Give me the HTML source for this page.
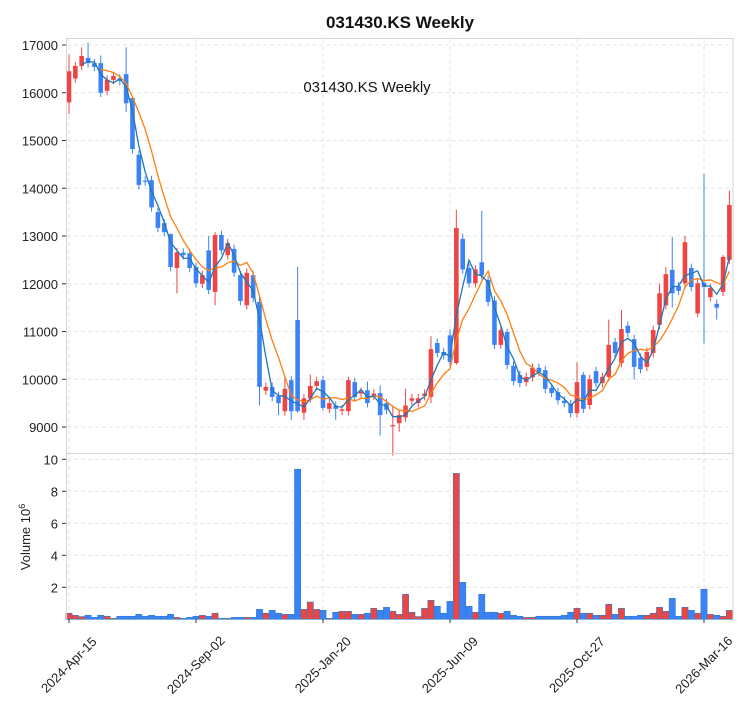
<!DOCTYPE html>
<html><head><meta charset="utf-8"><style>
body{margin:0;background:#fff;}
svg{display:block;font-family:"Liberation Sans",sans-serif;}
</style></head><body>
<svg id="s" width="753" height="712" xmlns="http://www.w3.org/2000/svg"></svg>
<script>
const C=[[15800,16450],[16300,16560],[16560,16770],[16730,16620],[16620,16540],[16620,16000],[16040,16270],[16270,16350],[16300,16250],[16390,15780],
[15890,14820],[14700,14070],[14160,14140],[14170,13600],[13500,13170],[13270,13080],[13040,12350],[12330,12660],[12650,12600],[12640,12330],
[12350,12010],[12000,12180],[12700,11870],[11830,13020],[13020,12700],[12600,12850],[12730,12230],[12180,11640],[11550,12230],[12180,11700],
[11620,9840],[9760,9840],[9840,9630],[9650,9500],[9330,9800],[9980,9330],[11240,9330],[9300,9600],[9600,9860],[9860,9960],
[9980,9400],[9380,9500],[9450,9380],[9340,9370],[9330,9980],[9940,9630],[9700,9740],[9770,9500],[9660,9700],[9710,9250],
[9500,9360],[9020,9040],[9080,9250],[9200,9450],[9550,9600],[9500,9600],[9650,9700],[9630,10630],[10760,10550],[10570,10500],
[10920,10360],[10340,13170],[12940,12300],[12330,12010],[12010,12300],[12450,12180],[12080,11620],[11650,10720],[10720,11030],[10990,10300],
[10280,9960],[10090,9920],[9940,10050],[10040,10240],[10240,10150],[10190,9800],[9820,9710],[9730,9560],[9550,9500],[9480,9290],
[9290,9940],[10090,9380],[9460,10000],[10170,9920],[9920,10050],[10050,10720],[10780,10550],[10340,11050],[11120,10970],[10840,10260],
[10450,10210],[10260,10570],[10550,11030],[11140,11800],[11550,12200],[12290,11800],[11950,11850],[12010,12870],[12330,11930],[11380,12010],
[12020,11930],[11720,11910],[11580,11500],[11830,12560],[12500,13650]];
const V=[.38,.25,.17,.25,.12,.25,.19,.06,.19,.19,.19,.31,.19,.25,.19,.19,.31,.12,.06,.12,.19,.25,.19,.38,.06,.06,.12,.12,.12,.12,
.62,.38,.56,.38,.31,.31,9.38,.62,1.08,.62,.56,.06,.44,.5,.5,.31,.31,.38,.69,.56,.75,.5,.31,1.56,.44,.17,.69,1.19,.81,.38,
1.12,9.12,2.31,.81,.44,1.56,.44,.44,.38,.5,.25,.19,.12,.12,.19,.19,.19,.19,.25,.44,.69,.38,.38,.25,.25,.94,.31,.69,.19,.19,
.25,.25,.38,.75,.5,1.31,.19,.75,.56,.38,1.88,.31,.25,.19,.56];
const HI={0:16800,2:16950,3:17050,9:16950,5:16780,10:15900,16:13050,22:13000,23:13080,30:11750,34:10050,36:12350,38:10100,44:10050,47:9950,49:9870,51:9450,53:9800,57:10900,60:11050,61:13550,62:13050,65:13530,69:11060,80:10350,81:10150,85:11250,87:11450,93:12000,94:12350,95:12980,97:13000,99:12100,100:14300,103:12600,104:13950};
const LO={0:15550,9:15600,17:11800,23:11550,30:9450,33:9250,35:9150,36:9300,37:9150,40:9350,42:9150,49:8820,51:8400,52:8900,57:9500,61:10300,79:9200,89:10000,95:11500,97:11900,99:11300,100:10750,102:11250};
const x0=69,dx=6.35;
const py=p=>45+(17000-p)*0.04775;
const vy=v=>619.3-v*16;
let s='';
const gx=[0,20,40,60,80,100];
for(let p=9000;p<=17000;p+=1000)s+=`<line x1="67" x2="733" y1="${py(p)}" y2="${py(p)}" stroke="#e4e4e4" stroke-dasharray="4,3"/>`;
for(let v=2;v<=10;v+=2)s+=`<line x1="67" x2="733" y1="${vy(v)}" y2="${vy(v)}" stroke="#e4e4e4" stroke-dasharray="4,3"/>`;
for(const i of gx){const x=x0+i*dx;s+=`<line x1="${x}" x2="${x}" y1="39" y2="618" stroke="#e4e4e4" stroke-dasharray="4,3"/>`;}
const R='#ef4444',B='#3b82f6';
V.forEach((v,i)=>{const o=C[i][0],c=C[i][1];const x=x0+i*dx;s+=`<rect x="${x-3.1}" y="${vy(v)}" width="6.2" height="${619.3-vy(v)}" fill="${c>=o?R:B}" stroke="#2f7fc4" stroke-width="0.6"/>`;});
C.forEach(([o,c],i)=>{const x=x0+i*dx;const col=c>=o?R:B;const h=HI[i]||Math.max(o,c)+90,l=LO[i]||Math.min(o,c)-90;
s+=`<line x1="${x}" x2="${x}" y1="${py(h)}" y2="${py(l)}" stroke="${col}" stroke-width="1"/>`;
const t=py(Math.max(o,c)),b=py(Math.min(o,c));s+=`<rect x="${x-2.3}" y="${t}" width="4.6" height="${Math.max(b-t,1.2)}" fill="${col}"/>`;});
function ma(n,col){let pts=[];for(let i=n-1;i<C.length;i++){let a=0;for(let k=0;k<n;k++)a+=C[i-k][1];pts.push((x0+i*dx).toFixed(1)+','+py(a/n).toFixed(1));}
s+=`<polyline points="${pts.join(' ')}" fill="none" stroke="${col}" stroke-width="1.3"/>`;}
ma(6,'#ff7f0e');ma(3,'#1f77b4');
s+=`<rect x="66.5" y="38.5" width="666.5" height="415" fill="none" stroke="#d4d4dc"/>`;
s+=`<line x1="66.5" x2="66.5" y1="453" y2="619" stroke="#d4d4dc"/><line x1="733" x2="733" y1="453" y2="619" stroke="#d4d4dc"/>`;
for(let p=9000;p<=17000;p+=1000){const y=py(p);s+=`<line x1="62" x2="66" y1="${y}" y2="${y}" stroke="#333"/><text x="58" y="${y+5}" font-size="13" text-anchor="end" fill="#222">${p}</text>`;}
for(let v=2;v<=10;v+=2){const y=vy(v);s+=`<line x1="62" x2="66" y1="${y}" y2="${y}" stroke="#333"/><text x="58" y="${y+5}" font-size="13" text-anchor="end" fill="#222">${v}</text>`;}
const L=['2024-Apr-15','2024-Sep-02','2025-Jan-20','2025-Jun-09','2025-Oct-27','2026-Mar-16'];
gx.forEach((i,k)=>{const x=x0+i*dx;s+=`<line x1="${x}" x2="${x}" y1="619" y2="623" stroke="#333"/><text transform="translate(${x+3},${668}) rotate(-45)" font-size="13" text-anchor="middle" fill="#222">${L[k]}</text>`;});
s+=`<text transform="translate(30,537) rotate(-90)" font-size="13" text-anchor="middle" fill="#222">Volume  10<tspan font-size="9" dy="-5">6</tspan></text>`;
s+=`<text x="400" y="28" font-size="17" font-weight="bold" text-anchor="middle" fill="#111">031430.KS  Weekly</text>`;
s+=`<text x="367" y="92" font-size="15" text-anchor="middle" fill="#111">031430.KS  Weekly</text>`;
document.getElementById('s').innerHTML=s;
</script>
</body></html>
